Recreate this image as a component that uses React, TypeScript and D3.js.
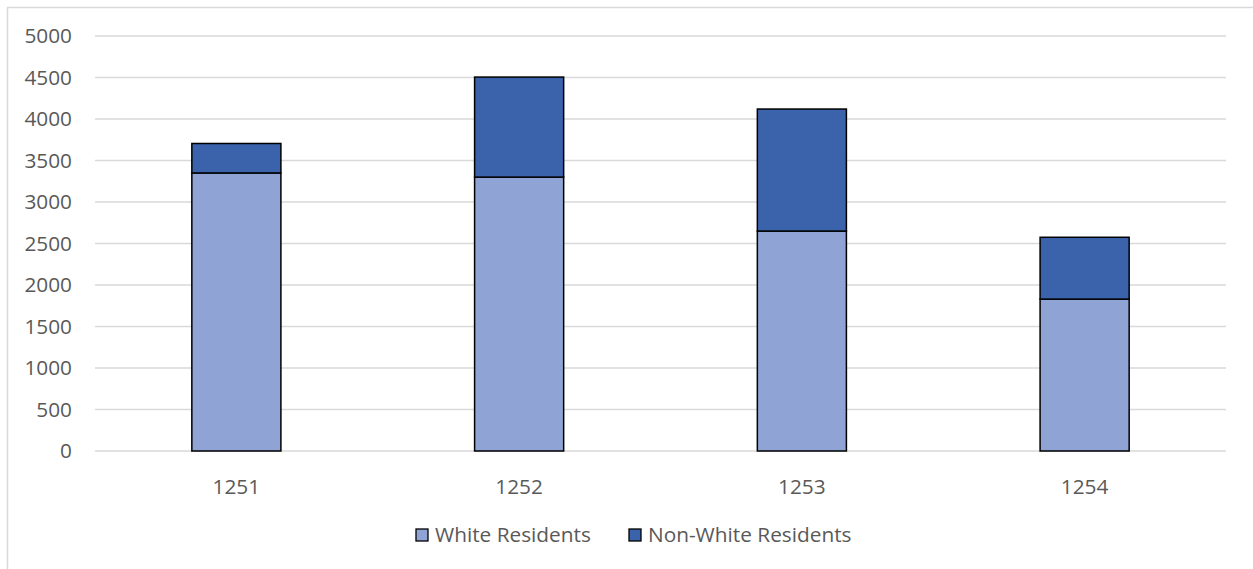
import React from "react";
import * as d3 from "d3";

const categories = ["1251", "1252", "1253", "1254"];
const whiteResidents = [3350, 3300, 2650, 1830];
const nonWhiteResidents = [355, 1205, 1470, 745];
const yTicks = [0, 500, 1000, 1500, 2000, 2500, 3000, 3500, 4000, 4500, 5000];
const seriesNames = ["White Residents", "Non-White Residents"];
const seriesColors = ["#8FA3D4", "#3A63AB"];

export default function App() {
  const W = 1253, H = 569;
  const left = 95, right = 1226, top = 36, bottom = 451;
  const x = d3.scaleBand<string>().domain(categories).range([left, right]).padding(0);
  const y = d3.scaleLinear().domain([0, 5000]).range([bottom, top]);
  const barW = x.bandwidth() * 0.315;
  const font = "'Open Sans', 'Liberation Sans', sans-serif";
  const fs = 20.8;
  const textColor = "#595959";
  const stacks = categories.map((c, i) => {
    const w = whiteResidents[i];
    const n = nonWhiteResidents[i];
    return { c, segs: [[0, w], [w, w + n]] };
  });
  const legendItems = [
    { name: seriesNames[0], color: seriesColors[0], x: 416 },
    { name: seriesNames[1], color: seriesColors[1], x: 629 },
  ];
  return (
    <svg width={W} height={H} style={{ position: "absolute", left: 0, top: 0 }}>
      <rect x={0} y={0} width={W} height={H} fill="#fff" />
      <line x1={7.5} y1={7} x2={7.5} y2={H} stroke="#D9D9D9" strokeWidth={1.5} />
      <line x1={7} y1={7.5} x2={W} y2={7.5} stroke="#D9D9D9" strokeWidth={1.5} />
      {yTicks.map((t) => (
        <g key={t}>
          <line x1={left} x2={right} y1={y(t)} y2={y(t)} stroke="#D9D9D9" strokeWidth={1.3} />
          <text x={72} y={y(t)} dy="0.35em" textAnchor="end" fontFamily={font} fontSize={fs} fill={textColor}>
            {t}
          </text>
        </g>
      ))}
      {stacks.map((s) => {
        const cx = (x(s.c) as number) + x.bandwidth() / 2;
        return (
          <g key={s.c}>
            {s.segs.map(([a, b], j) => (
              <rect
                key={j}
                x={cx - barW / 2}
                y={y(b)}
                width={barW}
                height={y(a) - y(b)}
                fill={seriesColors[j]}
                stroke="#000"
                strokeWidth={1.5}
              />
            ))}
            <text x={cx} y={487} dy="0.35em" textAnchor="middle" fontFamily={font} fontSize={fs} fill={textColor}>
              {s.c}
            </text>
          </g>
        );
      })}
      {legendItems.map((l) => (
        <g key={l.name}>
          <rect x={l.x} y={529} width={12} height={12} fill={l.color} stroke="#000" strokeWidth={1.3} />
          <text x={l.x + 19} y={535} dy="0.35em" fontFamily={font} fontSize={fs} fill={textColor}>
            {l.name}
          </text>
        </g>
      ))}
    </svg>
  );
}
